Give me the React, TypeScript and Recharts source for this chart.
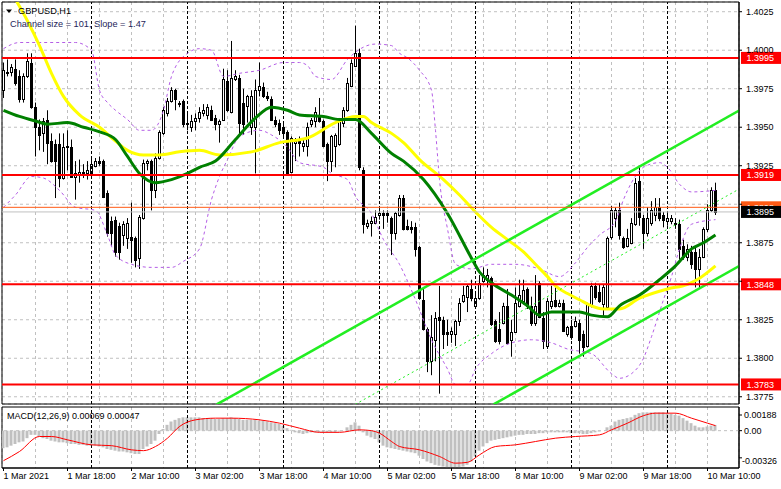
import React from "react";
import {
  ComposedChart,
  Bar,
  Line,
  XAxis,
  YAxis,
  CartesianGrid,
  ReferenceLine,
  ReferenceArea
} from "recharts";

const FONT = "'Liberation Sans', Arial, sans-serif";

// GBPUSD H1 candles, bar 0 = 1 Mar 02:00, last bar = 10 Mar 12:00
const opens = [
  1.3974, 1.3986, 1.3986, 1.3988, 1.3983, 1.3968, 1.3983, 1.3992, 1.3963, 1.395,
  1.3946, 1.3955, 1.3941, 1.3939, 1.3939, 1.3917, 1.3938, 1.3937, 1.3918, 1.3919,
  1.3921, 1.392, 1.392, 1.3925, 1.3928, 1.3928, 1.3907, 1.3889, 1.389, 1.3886,
  1.388, 1.3878, 1.3879, 1.3878, 1.3865, 1.3891, 1.3927, 1.3928, 1.3909, 1.393,
  1.3946, 1.3959, 1.3967, 1.3974, 1.3966, 1.3967, 1.3953, 1.395, 1.3954, 1.3956,
  1.3959, 1.3958, 1.3961, 1.3956, 1.3952, 1.3955, 1.398, 1.396, 1.3981, 1.3982,
  1.3966, 1.3964, 1.395, 1.395, 1.3974, 1.3976, 1.397, 1.3968, 1.3955, 1.3953,
  1.395, 1.3947, 1.3921, 1.394, 1.3941, 1.3938, 1.3938, 1.3952, 1.3954, 1.3958,
  1.3954, 1.3939, 1.3928, 1.3938, 1.3939, 1.3953, 1.3961, 1.3977, 1.399, 1.3998,
  1.3922, 1.3886, 1.3888, 1.3888, 1.3893, 1.3894, 1.3894, 1.3891, 1.3881, 1.3893,
  1.3904, 1.3886, 1.3885, 1.3885, 1.3872, 1.3838, 1.3819, 1.3798, 1.3812, 1.3827,
  1.3825, 1.3817, 1.3816, 1.3816, 1.3824, 1.3837, 1.384, 1.3845, 1.3834, 1.3839,
  1.385, 1.3851, 1.3852, 1.3824, 1.3819, 1.3823, 1.3834, 1.3812, 1.3817, 1.3834,
  1.3837, 1.3845, 1.3834, 1.3823, 1.3849, 1.3826, 1.3808, 1.3834, 1.3838, 1.3834,
  1.3836, 1.3816, 1.3821, 1.3821, 1.3823, 1.3816, 1.3808, 1.3834, 1.3847, 1.3843,
  1.3835, 1.3833, 1.3879, 1.3891, 1.3896, 1.3878, 1.3873, 1.3875, 1.3887, 1.3915,
  1.3891, 1.3881, 1.3888, 1.3893, 1.3898, 1.3893, 1.3889, 1.3889, 1.3888, 1.3887,
  1.3873, 1.3866, 1.3869, 1.3869, 1.3858, 1.3866, 1.3884, 1.3896, 1.3909
];
const highs = [
  1.3992, 1.3994, 1.3991, 1.3994, 1.3987, 1.3985, 1.3998, 1.3998, 1.3966, 1.3955,
  1.3956, 1.3961, 1.3946, 1.3942, 1.3946, 1.3946, 1.3948, 1.3942, 1.3928, 1.3929,
  1.3926, 1.3928, 1.393, 1.393, 1.3931, 1.3929, 1.3909, 1.3892, 1.3892, 1.3888,
  1.3889, 1.3891, 1.3901, 1.3879, 1.3893, 1.3929, 1.3929, 1.3929, 1.3933, 1.3948,
  1.3963, 1.3969, 1.3976, 1.3975, 1.3967, 1.3968, 1.3959, 1.3958, 1.3959, 1.3963,
  1.3965, 1.3965, 1.3964, 1.3958, 1.3955, 1.3988, 1.3987, 1.4006, 1.3987, 1.3984,
  1.3975, 1.3971, 1.3974, 1.3981, 1.3992, 1.3979, 1.3973, 1.397, 1.3957, 1.3955,
  1.3953, 1.3948, 1.3944, 1.3943, 1.3944, 1.3943, 1.3953, 1.3956, 1.3963, 1.3969,
  1.3955, 1.394, 1.3945, 1.3946, 1.3956, 1.3963, 1.3982, 1.3994, 1.4016, 1.4001,
  1.3924, 1.389, 1.3892, 1.3896, 1.3898, 1.3896, 1.3896, 1.3892, 1.3895, 1.3906,
  1.3906, 1.389, 1.3889, 1.3888, 1.3873, 1.3845, 1.382, 1.3828, 1.383, 1.3847,
  1.3827, 1.3825, 1.382, 1.3825, 1.3839, 1.3847, 1.3848, 1.3851, 1.3843, 1.3854,
  1.3859, 1.3858, 1.3853, 1.3825, 1.383, 1.3836, 1.3845, 1.3825, 1.3846, 1.3851,
  1.3851, 1.3846, 1.384, 1.3854, 1.385, 1.383, 1.3839, 1.3847, 1.3846, 1.3838,
  1.3838, 1.3821, 1.3825, 1.3827, 1.3825, 1.3818, 1.3836, 1.3849, 1.3849, 1.3848,
  1.3848, 1.3879, 1.3899, 1.3898, 1.3901, 1.3879, 1.3884, 1.3891, 1.3917, 1.3925,
  1.3893, 1.3898, 1.3902, 1.3904, 1.3904, 1.3895, 1.3894, 1.3893, 1.3891, 1.389,
  1.3877, 1.3874, 1.3873, 1.3872, 1.3871, 1.3885, 1.39, 1.3911, 1.3914
];
const lows = [
  1.3969, 1.3983, 1.3983, 1.3977, 1.3966, 1.3966, 1.3982, 1.3962, 1.3931, 1.3935,
  1.3934, 1.3926, 1.3927, 1.3904, 1.3911, 1.3916, 1.3922, 1.3918, 1.3903, 1.3914,
  1.3917, 1.3916, 1.3917, 1.3924, 1.3925, 1.3904, 1.3879, 1.3873, 1.3866, 1.3864,
  1.3873, 1.3871, 1.3862, 1.3859, 1.3858, 1.389, 1.3922, 1.3896, 1.3904, 1.3929,
  1.3945, 1.3957, 1.3966, 1.3961, 1.3963, 1.395, 1.3948, 1.3947, 1.3948, 1.3953,
  1.3957, 1.3955, 1.3954, 1.3948, 1.394, 1.3954, 1.396, 1.3959, 1.398, 1.3945,
  1.3945, 1.3953, 1.3945, 1.392, 1.397, 1.3969, 1.3967, 1.3954, 1.395, 1.3945,
  1.3944, 1.3919, 1.392, 1.3928, 1.3931, 1.3934, 1.3931, 1.395, 1.395, 1.3953,
  1.3937, 1.3915, 1.3921, 1.3924, 1.3938, 1.395, 1.396, 1.3976, 1.3989, 1.3922,
  1.3881, 1.3884, 1.3879, 1.3887, 1.389, 1.3884, 1.3888, 1.3867, 1.3877, 1.3892,
  1.3883, 1.3883, 1.3881, 1.3866, 1.3838, 1.3818, 1.3791, 1.3789, 1.3798, 1.3777,
  1.3806, 1.3808, 1.381, 1.3808, 1.3821, 1.3836, 1.383, 1.3837, 1.3832, 1.3838,
  1.3849, 1.3846, 1.3821, 1.381, 1.3809, 1.3822, 1.3809, 1.3801, 1.3817, 1.3833,
  1.3835, 1.3832, 1.3821, 1.3821, 1.3826, 1.3806, 1.3806, 1.3832, 1.3833, 1.3833,
  1.3817, 1.3814, 1.3812, 1.382, 1.3803, 1.3801, 1.3807, 1.3833, 1.3838, 1.3836,
  1.3827, 1.3832, 1.3877, 1.3885, 1.3877, 1.3871, 1.3872, 1.3874, 1.3886, 1.3886,
  1.3871, 1.3879, 1.3886, 1.3889, 1.3889, 1.3885, 1.3886, 1.3887, 1.3884, 1.3864,
  1.3864, 1.3863, 1.3858, 1.3846, 1.3845, 1.3865, 1.3882, 1.3895, 1.3893
];
const closes = [
  1.3987, 1.3985, 1.3989, 1.3979, 1.3968, 1.3983, 1.3993, 1.3963, 1.395, 1.3945,
  1.3954, 1.394, 1.3928, 1.3928, 1.3917, 1.3937, 1.3937, 1.3918, 1.392, 1.3921,
  1.3919, 1.3922, 1.3926, 1.3928, 1.3927, 1.3905, 1.3881, 1.3881, 1.3869, 1.3869,
  1.3887, 1.3888, 1.3877, 1.3864, 1.3892, 1.3927, 1.3928, 1.3909, 1.393, 1.3947,
  1.3961, 1.3967, 1.3974, 1.3968, 1.3965, 1.3952, 1.3952, 1.3954, 1.3956, 1.396,
  1.3961, 1.3963, 1.3955, 1.3952, 1.3954, 1.3981, 1.3961, 1.3982, 1.3983, 1.3953,
  1.3952, 1.397, 1.397, 1.3974, 1.3977, 1.397, 1.3969, 1.3955, 1.3952, 1.3948,
  1.3946, 1.392, 1.3943, 1.3941, 1.394, 1.394, 1.395, 1.3955, 1.396, 1.3954,
  1.3938, 1.3928, 1.3944, 1.3945, 1.3954, 1.3961, 1.3979, 1.3992, 1.3998, 1.3924,
  1.3887, 1.3888, 1.3889, 1.3892, 1.3894, 1.3893, 1.3893, 1.3881, 1.3894, 1.3904,
  1.3884, 1.3884, 1.3884, 1.3871, 1.3839, 1.3819, 1.3798, 1.3814, 1.3826, 1.3825,
  1.3816, 1.3816, 1.3818, 1.3824, 1.3836, 1.3841, 1.3847, 1.3839, 1.3839, 1.3849,
  1.3854, 1.3854, 1.3822, 1.3811, 1.3811, 1.3834, 1.381, 1.3817, 1.3836, 1.3841,
  1.3844, 1.3834, 1.3823, 1.3834, 1.3827, 1.3811, 1.3837, 1.3837, 1.3834, 1.3836,
  1.3818, 1.382, 1.3814, 1.3824, 1.3812, 1.3807, 1.3835, 1.3847, 1.384, 1.3837,
  1.3846, 1.3878, 1.3896, 1.3896, 1.388, 1.3872, 1.3878, 1.3888, 1.3914, 1.3892,
  1.3881, 1.3891, 1.3896, 1.3898, 1.3891, 1.389, 1.3891, 1.3891, 1.3887, 1.3871,
  1.3866, 1.3871, 1.3861, 1.3858, 1.3866, 1.3884, 1.3896, 1.3909, 1.3895
];

// moving averages and envelope bands, read at [bar, price]
const yellowMa = [
  [3, 1.4033], [6, 1.4019], [9, 1.4003], [12, 1.3985], [15, 1.397], [19, 1.3958],
  [24, 1.395], [28, 1.3941], [31, 1.3935], [35, 1.3932], [39, 1.3932], [44, 1.3934],
  [49, 1.3935], [54, 1.3932], [62, 1.3934], [69, 1.394], [76, 1.3943], [83, 1.3953],
  [88, 1.3957], [90, 1.3957], [92, 1.3953], [97, 1.3946], [100, 1.394], [104, 1.3929],
  [110, 1.3916], [114, 1.3906], [118, 1.3895], [122, 1.3885], [126, 1.3877], [130, 1.3869],
  [133, 1.3861], [136, 1.3853], [138, 1.3847], [141, 1.3842], [144, 1.3838], [147, 1.3834],
  [150, 1.3832], [154, 1.3832], [159, 1.3839], [166, 1.3845], [171, 1.3848], [174, 1.3852],
  [178, 1.386]
];
const greenMa = [
  [0, 1.3961], [4, 1.3957], [8, 1.3954], [11, 1.3952], [16, 1.3953], [20, 1.395],
  [24, 1.3947], [28, 1.3942], [31, 1.3931], [34, 1.392], [38, 1.3914], [42, 1.3916],
  [46, 1.392], [49, 1.3924], [53, 1.3928], [58, 1.3942], [63, 1.3956], [67, 1.3963],
  [71, 1.3961], [74, 1.3958], [80, 1.3957], [84, 1.3955], [88, 1.3955], [92, 1.3946],
  [97, 1.3933], [100, 1.3928], [105, 1.3916], [111, 1.3894], [117, 1.3865], [119, 1.3856],
  [122, 1.3849], [127, 1.3841], [131, 1.3834], [134, 1.3828], [137, 1.383], [141, 1.383],
  [144, 1.383], [147, 1.3828], [151, 1.3827], [154, 1.3834], [159, 1.3841], [164, 1.3851],
  [168, 1.386], [172, 1.3871], [175, 1.3875], [178, 1.388]
];
const bandUpper = [
  [0, 1.4001], [4, 1.4005], [10, 1.4005], [18, 1.4005], [22, 1.4], [24, 1.3974],
  [26, 1.3966], [28, 1.3961], [31, 1.3955], [34, 1.3948], [37, 1.3948], [40, 1.3961],
  [42, 1.3983], [46, 1.3998], [49, 1.4001], [52, 1.4], [55, 1.3983], [59, 1.3985],
  [64, 1.3987], [70, 1.3992], [74, 1.3992], [76, 1.399], [78, 1.3983], [82, 1.3981],
  [86, 1.3994], [90, 1.4002], [93, 1.4004], [97, 1.4003], [99, 1.3998], [101, 1.3995],
  [104, 1.3987], [107, 1.3974], [108, 1.3948], [109, 1.3916], [111, 1.3884], [113, 1.3861],
  [117, 1.3858], [122, 1.3861], [128, 1.3861], [134, 1.3858], [139, 1.3853], [143, 1.3862],
  [146, 1.3872], [149, 1.388], [153, 1.3889], [155, 1.3903], [157, 1.3914], [160, 1.3924],
  [164, 1.3927], [166, 1.3924], [169, 1.3913], [172, 1.3908], [178, 1.3909]
];
const bandLower = [
  [0, 1.3898], [3, 1.3906], [7, 1.3918], [10, 1.3917], [14, 1.3909], [18, 1.3898],
  [23, 1.3896], [26, 1.388], [28, 1.3867], [32, 1.3861], [37, 1.3859], [42, 1.3859],
  [45, 1.3863], [49, 1.3871], [52, 1.3903], [54, 1.3918], [56, 1.3929], [59, 1.3944],
  [64, 1.3948], [67, 1.3945], [71, 1.3937], [74, 1.3927], [80, 1.3924], [82, 1.392],
  [86, 1.3916], [88, 1.3905], [92, 1.3894], [95, 1.3877], [99, 1.3861], [103, 1.3838],
  [107, 1.3812], [111, 1.3793], [113, 1.3783], [116, 1.3783], [118, 1.3793], [122, 1.3803],
  [127, 1.381], [132, 1.3812], [137, 1.381], [141, 1.3806], [147, 1.3803], [152, 1.379],
  [154, 1.3787], [157, 1.379], [160, 1.38], [162, 1.3814], [165, 1.3838], [167, 1.3853],
  [169, 1.3871], [172, 1.3887], [178, 1.389]
];

// MACD(12,26,9): histogram per bar, signal read at [bar, value]
const macdHist = [
  -0.0021, -0.002, -0.0018, -0.0016, -0.0014, -0.0013, -0.0009, -0.0005, -0.0005, -0.0007,
  -0.0009, -0.001, -0.0012, -0.0013, -0.0014, -0.0014, -0.0015, -0.0016, -0.0016, -0.0017,
  -0.0017, -0.0018, -0.0018, -0.0018, -0.0019, -0.002, -0.0022, -0.0023, -0.0024, -0.0025,
  -0.0025, -0.0026, -0.0027, -0.0028, -0.0028, -0.0022, -0.0019, -0.0016, -0.0012, -0.0004,
  0.0002, 0.0007, 0.0011, 0.0013, 0.0015, 0.0016, 0.0016, 0.0016, 0.0016, 0.0016,
  0.0015, 0.0015, 0.0015, 0.0014, 0.0014, 0.0015, 0.0015, 0.0016, 0.0015, 0.0014,
  0.0013, 0.0013, 0.0013, 0.0013, 0.0012, 0.0012, 0.0011, 0.001, 0.0009, 0.0008,
  0.0006, 0.0003, 0.0001, -0.0002, -0.0003, -0.0004, -0.0003, -0.0002, -0.0002, -0.0002,
  -0.0002, -0.0002, -0.0002, -0.0002, -0.0001, 0.0, 0.0004, 0.0007, 0.001, 0.0006,
  -0.0002, -0.0006, -0.0008, -0.001, -0.0014, -0.0018, -0.002, -0.0021, -0.0022, -0.0023,
  -0.0024, -0.0025, -0.0026, -0.0027, -0.003, -0.0034, -0.0037, -0.0039, -0.0041, -0.0042,
  -0.0043, -0.0044, -0.0044, -0.0044, -0.0044, -0.0043, -0.0041, -0.0037, -0.0031, -0.0024,
  -0.0019, -0.0015, -0.0012, -0.0011, -0.001, -0.0009, -0.0008, -0.0007, -0.0006, -0.0005,
  -0.0005, -0.0004, -0.0004, -0.0004, -0.0003, -0.0003, -0.0002, -0.0002, -0.0002, -0.0002,
  -0.0002, -0.0002, -0.0003, -0.0003, -0.0003, -0.0004, -0.0004, -0.0003, -0.0002, -0.0001,
  0.0, 0.0004, 0.0006, 0.0011, 0.0013, 0.0014, 0.0015, 0.0016, 0.0019, 0.0021,
  0.0022, 0.0022, 0.0022, 0.0022, 0.0022, 0.0022, 0.0021, 0.002, 0.0019, 0.0018,
  0.0015, 0.0012, 0.0009, 0.0006, 0.0004, 0.0004, 0.0005, 0.0006, 0.00069
];
const macdSignal = [
  [0, -0.0036], [4, -0.0025], [9, -0.0007], [12, -0.0007], [16, -0.0011], [22, -0.0017],
  [27, -0.0018], [32, -0.0023], [35, -0.0024], [38, -0.0019], [41, -0.0009], [44, 0.0005],
  [48, 0.0013], [53, 0.0015], [57, 0.0015], [64, 0.0013], [69, 0.0009], [74, 0.0003],
  [79, -0.0002], [84, -0.0002], [89, 0.0001], [92, 0.0], [94, -0.0003], [97, -0.0013],
  [99, -0.0019], [104, -0.0023], [109, -0.0031], [113, -0.0039], [116, -0.0038], [119, -0.0029],
  [123, -0.0019], [128, -0.0017], [133, -0.0013], [138, -0.0009], [143, -0.0007], [149, -0.0005],
  [152, 0.0001], [156, 0.0009], [160, 0.0018], [163, 0.0021], [168, 0.0021], [172, 0.0015],
  [176, 0.0009], [178, 0.0006]
];

const levelPrices = [1.3995, 1.3919, 1.3848, 1.3783];
const askPrice = 1.3898;
const bidPrice = 1.3895;

// channel lines, two points each [bar, price]
const channelUpper = [[53.3, 1.377], [184, 1.3961]];
const channelMid = [[87.9, 1.377], [184, 1.391]];
const channelLower = [[122.5, 1.377], [184, 1.386]];

const priceTicks = [1.3775, 1.38, 1.3825, 1.385, 1.3875, 1.39, 1.3925, 1.395, 1.3975, 1.4, 1.4025];
const macdTicks = [0.00188, 0, -0.00326];
const gridIdx = [8, 16, 24, 32, 40, 48, 56, 64, 72, 80, 88, 96, 104, 112, 120, 128, 136, 144, 152, 160, 168, 176];
const labelIdx = [0, 16, 32, 48, 64, 80, 96, 112, 128, 144, 160, 176];
const timeLabels = [
  "1 Mar 2021", "1 Mar 18:00", "2 Mar 10:00", "3 Mar 02:00", "3 Mar 18:00", "4 Mar 10:00",
  "5 Mar 02:00", "5 Mar 18:00", "8 Mar 10:00", "9 Mar 02:00", "9 Mar 18:00", "10 Mar 10:00"
];
const dayStarts = [22, 46, 70, 94, 118, 142, 166];

const X_DOMAIN: [number, number] = [-0.375, 183.875];
const PRICE_DOMAIN: [number, number] = [1.37703, 1.40313];
const MACD_DOMAIN: [number, number] = [-0.00448, 0.00284];

// tags on the price scale hide the tick text below them
const tagPrices = [...levelPrices, askPrice, bidPrice];

const toMap = (pts: number[][]) => {
  const m = new Map<number, number>();
  pts.forEach(([i, v]) => m.set(i, v));
  return m;
};

function Candle(props: any) {
  const { x, y, width, height, payload } = props;
  if (!payload || x == null || y == null) return null;
  const top = Math.min(y, y + height);
  const span = Math.abs(height);
  const { o, h, l, c } = payload;
  const k = h > l ? span / (h - l) : 0;
  const py = (v: number) => top + (h - v) * k;
  const cx = Math.floor(x + width / 2) + 0.5;
  const bTop = Math.round(Math.min(py(o), py(c))) + 0.5;
  const bBot = Math.max(Math.round(Math.max(py(o), py(c))) + 0.5, bTop + 1);
  return (
    <g>
      <line x1={cx} x2={cx} y1={top} y2={top + span} stroke="#000" strokeWidth={1} />
      <rect
        x={cx - 1}
        y={bTop}
        width={2}
        height={bBot - bTop}
        fill={c >= o ? "#fff" : "#000"}
        stroke="#000"
        strokeWidth={1}
      />
    </g>
  );
}

function PriceTag(props: any) {
  const { viewBox, text, bg } = props;
  if (!viewBox) return null;
  const left = viewBox.x + viewBox.width + 2;
  const cy = viewBox.y;
  return (
    <g>
      <rect x={left} y={cy - 6} width={40} height={12} fill={bg} />
      <text x={left + 5.5} y={cy} dy="0.36em" fontSize={9} fill="#fff" fontFamily={FONT}>
        {text}
      </text>
    </g>
  );
}

function PriceTick(props: any) {
  const { x, y, payload } = props;
  const v = payload.value;
  if (tagPrices.some((t) => Math.abs(t - v) < 0.0004)) return null;
  return (
    <text x={x} y={y} dy="0.36em" fontSize={9} fill="#000" fontFamily={FONT}>
      {v.toFixed(4)}
    </text>
  );
}

function MacdTick(props: any) {
  const { x, y, payload } = props;
  const v = payload.value;
  if (v < 0) {
    return (
      <text
        x={x - 4}
        y={y + 3}
        dy="0.36em"
        fontSize={9}
        fill="#000"
        fontFamily={FONT}
        textLength={35}
        lengthAdjust="spacingAndGlyphs"
      >
        {v.toFixed(5)}
      </text>
    );
  }
  return (
    <text x={x - 2} y={y} dy="0.36em" fontSize={9} fill="#000" fontFamily={FONT}>
      {v === 0 ? "0.00" : v.toFixed(5)}
    </text>
  );
}

export default function App() {
  const y1 = toMap(yellowMa);
  const g1 = toMap(greenMa);
  const bu = toMap(bandUpper);
  const bl = toMap(bandLower);
  const sg = toMap(macdSignal);

  const rows = opens.map((o, i) => ({
    i,
    o,
    h: highs[i],
    l: lows[i],
    c: closes[i],
    hl: [lows[i], highs[i]],
    yellow: y1.get(i) ?? null,
    green: g1.get(i) ?? null,
    bbUp: bu.get(i) ?? null,
    bbLo: bl.get(i) ?? null
  }));
  const macdRows = macdHist.map((m, i) => ({ i, m, sig: sg.get(i) ?? null }));

  const seg = (p: number[][]) => [
    { x: p[0][0], y: p[0][1] },
    { x: p[1][0], y: p[1][1] }
  ];

  return (
    <div
      style={{
        position: "absolute",
        left: 0,
        top: 0,
        width: 781,
        height: 489,
        background: "#fff",
        fontFamily: FONT,
        overflow: "hidden"
      }}
    >
      <div style={{ position: "absolute", left: 0, top: 0 }}>
        <ComposedChart
          width={781}
          height={406}
          data={rows}
          margin={{ top: 2, right: 0, bottom: 2, left: 2 }}
        >
          <CartesianGrid stroke="#c0c0c0" strokeDasharray="3 3" />
          <XAxis type="number" dataKey="i" domain={X_DOMAIN} ticks={gridIdx} height={0} hide allowDataOverflow />
          <YAxis
            orientation="right"
            width={42}
            domain={PRICE_DOMAIN}
            ticks={priceTicks}
            interval={0}
            allowDataOverflow
            tick={(p: any) => <PriceTick {...p} />}
            tickSize={3}
            tickMargin={4}
            axisLine={{ stroke: "#000" }}
            tickLine={{ stroke: "#000" }}
          />
          {dayStarts.map((d) => (
            <ReferenceLine key={"d" + d} x={d} stroke="#000" strokeDasharray="3 2" />
          ))}
          <Bar dataKey="hl" barSize={3} isAnimationActive={false} shape={(p: any) => <Candle {...p} />} />
          <Line type="monotone" dataKey="bbUp" stroke="#b45ee6" strokeWidth={1} strokeDasharray="3 3" dot={false} connectNulls isAnimationActive={false} />
          <Line type="monotone" dataKey="bbLo" stroke="#b45ee6" strokeWidth={1} strokeDasharray="3 3" dot={false} connectNulls isAnimationActive={false} />
          <Line type="monotone" dataKey="yellow" stroke="#ffff00" strokeWidth={3} dot={false} connectNulls isAnimationActive={false} />
          <Line type="monotone" dataKey="green" stroke="#008000" strokeWidth={3} dot={false} connectNulls isAnimationActive={false} />
          <ReferenceLine segment={seg(channelUpper)} stroke="#22ee22" strokeWidth={2.5} ifOverflow="hidden" />
          <ReferenceLine segment={seg(channelLower)} stroke="#22ee22" strokeWidth={2.5} ifOverflow="hidden" />
          <ReferenceLine segment={seg(channelMid)} stroke="#22ee22" strokeWidth={1} strokeDasharray="2 3" ifOverflow="hidden" />
          <ReferenceLine
            y={askPrice}
            stroke="#ff5a14"
            strokeWidth={1}
            ifOverflow="visible"
            label={<PriceTag text={askPrice.toFixed(4)} bg="#ff5a14" />}
          />
          <ReferenceLine
            y={bidPrice}
            stroke="#c0c0c0"
            strokeWidth={1}
            ifOverflow="visible"
            label={<PriceTag text={bidPrice.toFixed(4)} bg="#000" />}
          />
          {levelPrices.map((p) => (
            <ReferenceLine
              key={"l" + p}
              y={p}
              stroke="#ff0000"
              strokeWidth={2}
              ifOverflow="visible"
              label={<PriceTag text={p.toFixed(4)} bg="#ff0000" />}
            />
          ))}
          <ReferenceArea
            x1={X_DOMAIN[0]}
            x2={X_DOMAIN[1]}
            y1={PRICE_DOMAIN[0]}
            y2={PRICE_DOMAIN[1]}
            fill="#fff"
            fillOpacity={0}
            stroke="#000"
            strokeWidth={1}
            ifOverflow="visible"
          />
        </ComposedChart>
      </div>

      <div style={{ position: "absolute", left: 0, top: 405 }}>
        <ComposedChart
          width={781}
          height={84}
          data={macdRows}
          margin={{ top: 2, right: 0, bottom: 1, left: 2 }}
        >
          <CartesianGrid xAxisId="grid" stroke="#c0c0c0" strokeDasharray="3 3" horizontal={false} />
          <XAxis
            xAxisId="time"
            type="number"
            dataKey="i"
            domain={X_DOMAIN}
            ticks={labelIdx}
            interval={0}
            allowDataOverflow
            height={20}
            tickSize={3}
            tickMargin={2}
            tickLine={{ stroke: "#000" }}
            axisLine={{ stroke: "#000" }}
            tickFormatter={(v: number) => timeLabels[labelIdx.indexOf(v)] ?? ""}
            tick={{ fontSize: 9, fill: "#000", fontFamily: FONT, textAnchor: "start" }}
          />
          <XAxis xAxisId="grid" type="number" dataKey="i" domain={X_DOMAIN} ticks={[0, ...gridIdx]} height={0} hide allowDataOverflow />
          <YAxis
            orientation="right"
            width={42}
            domain={MACD_DOMAIN}
            ticks={macdTicks}
            interval={0}
            allowDataOverflow
            tickSize={3}
            tickMargin={4}
            axisLine={{ stroke: "#000" }}
            tickLine={{ stroke: "#000" }}
            tick={(p: any) => <MacdTick {...p} />}
          />
          <ReferenceLine xAxisId="grid" y={0} stroke="#c0c0c0" strokeDasharray="3 3" />
          {dayStarts.map((d) => (
            <ReferenceLine key={"md" + d} xAxisId="grid" x={d} stroke="#000" strokeDasharray="3 2" />
          ))}
          <Bar xAxisId="grid" dataKey="m" barSize={3} fill="#c0c0c0" isAnimationActive={false} />
          <Line xAxisId="grid" type="monotone" dataKey="sig" stroke="#ff0000" strokeWidth={1} dot={false} connectNulls isAnimationActive={false} />
          <ReferenceArea
            xAxisId="grid"
            x1={X_DOMAIN[0]}
            x2={X_DOMAIN[1]}
            y1={MACD_DOMAIN[0]}
            y2={MACD_DOMAIN[1]}
            fill="#fff"
            fillOpacity={0}
            stroke="#000"
            strokeWidth={1}
            ifOverflow="visible"
          />
        </ComposedChart>
      </div>

      <svg
        width={781}
        height={489}
        style={{ position: "absolute", left: 0, top: 0, pointerEvents: "none" }}
      >
        <polygon points="6,9.5 12,9.5 9,13" fill="#000" />
        <text x={18} y={14.3} fontSize={9.2} fill="#000" fontFamily={FONT}>
          GBPUSD,H1
        </text>
        <text x={10} y={26.6} fontSize={9.2} fill="#1e1e5a" fontFamily={FONT}>
          Channel size = 101, Slope = 1.47
        </text>
        <text x={7} y={419} fontSize={9} fill="#000" fontFamily={FONT}>
          MACD(12,26,9) 0.00069 0.00047
        </text>
      </svg>
    </div>
  );
}
